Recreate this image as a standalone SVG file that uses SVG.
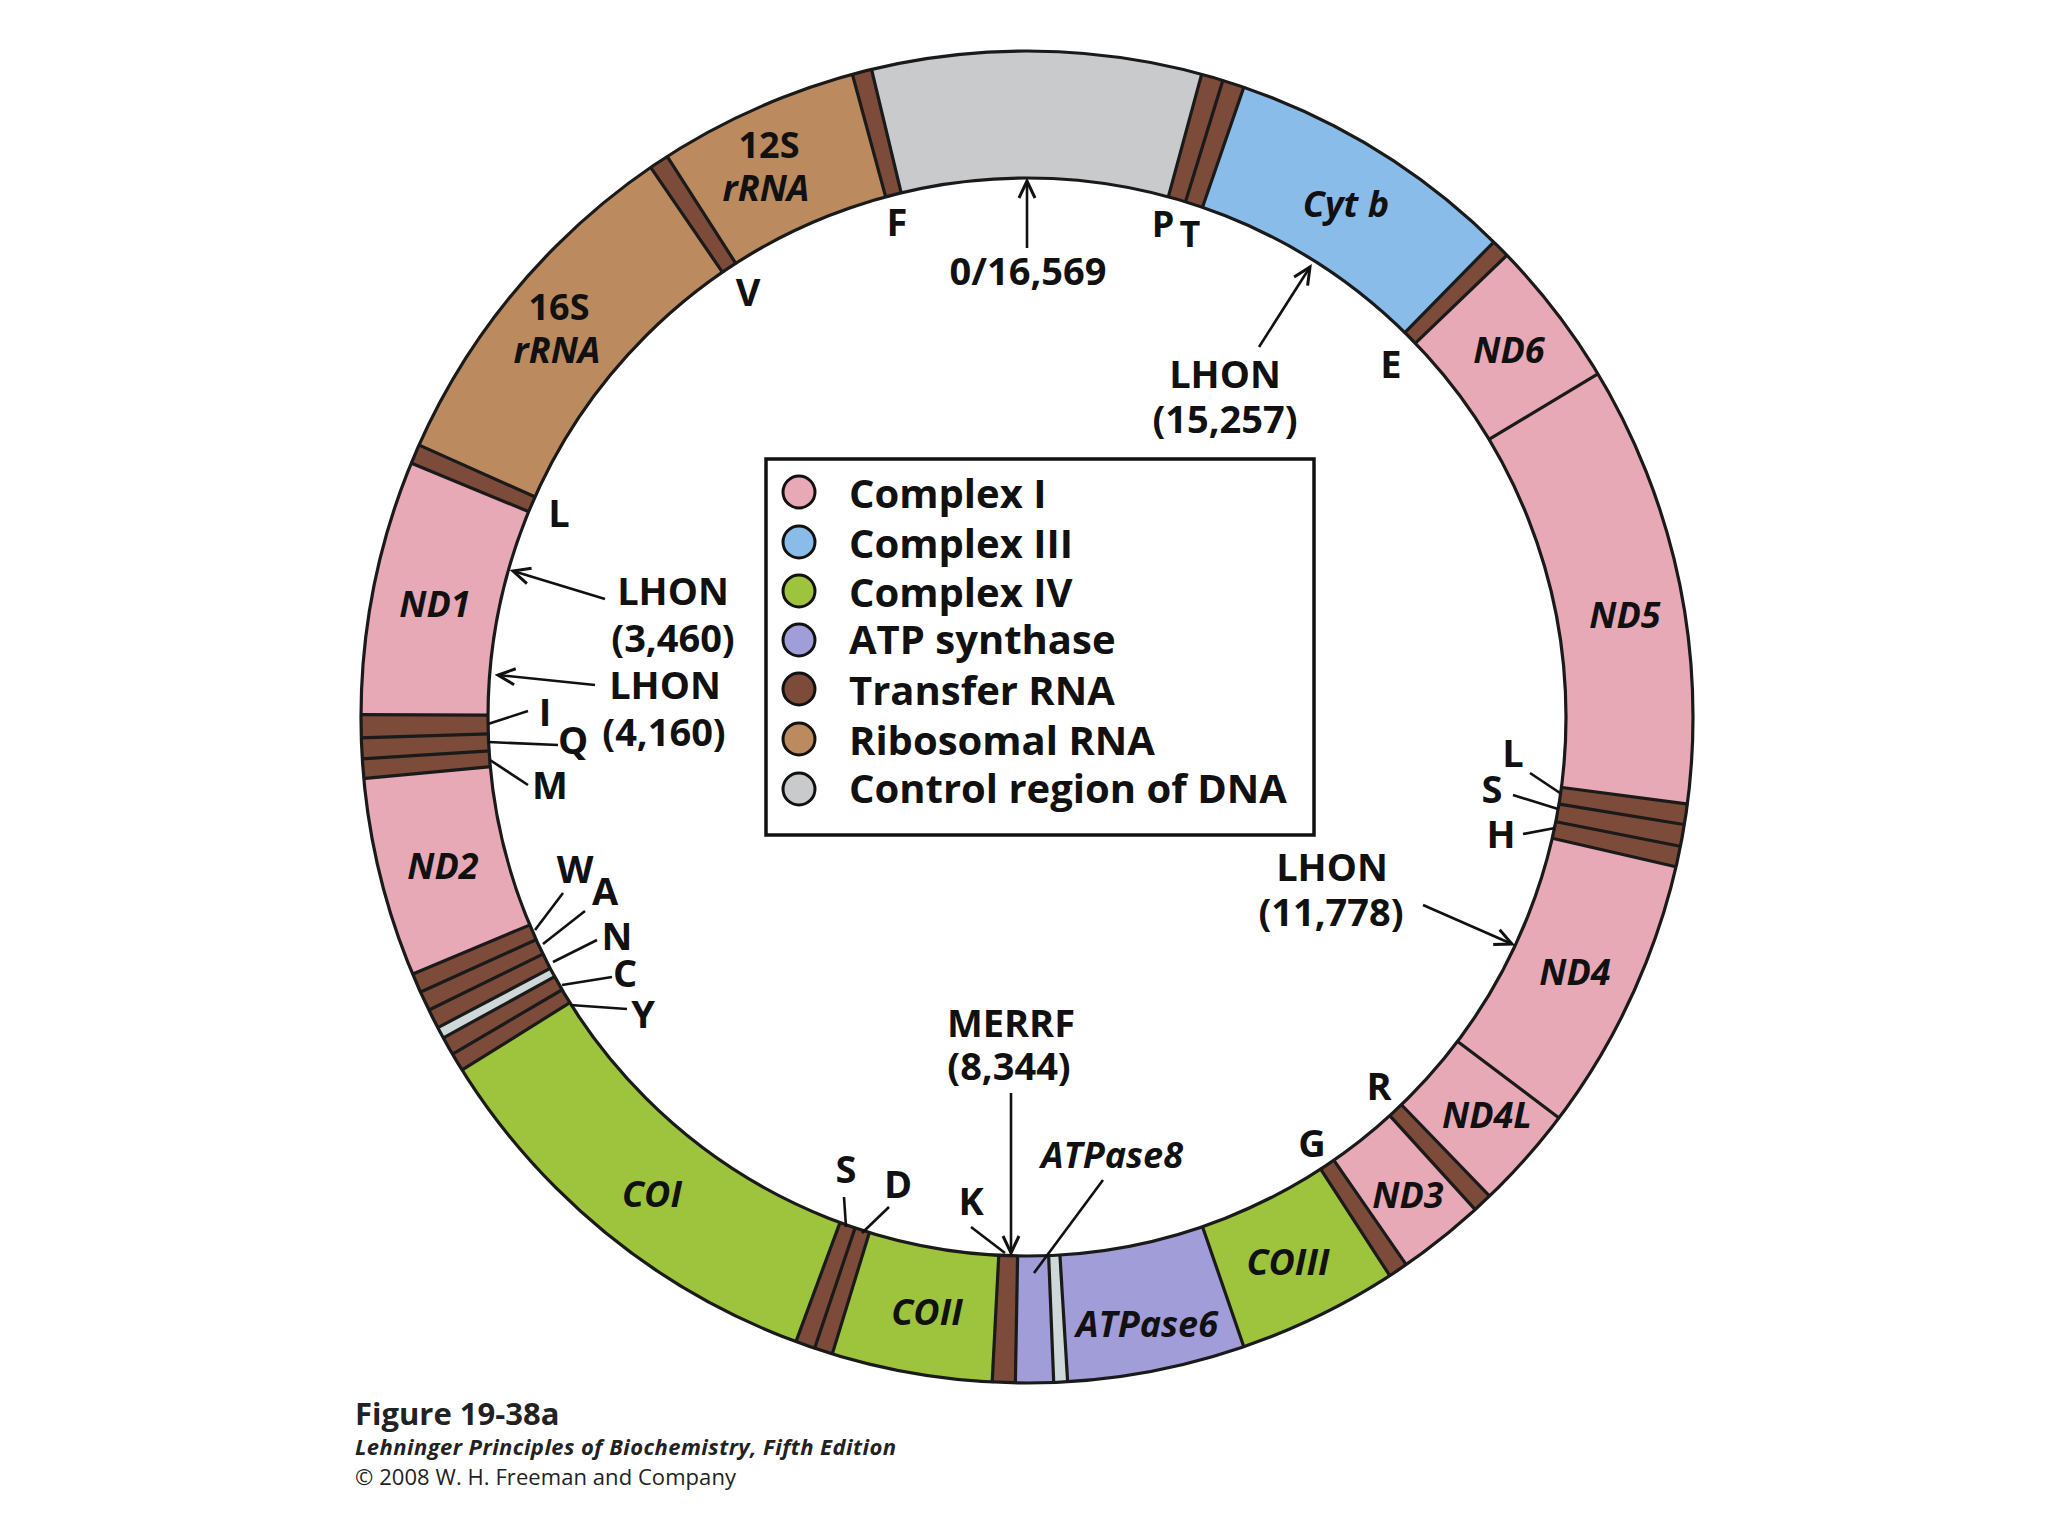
<svg xmlns="http://www.w3.org/2000/svg" width="2048" height="1536" viewBox="0 0 2048 1536">
<defs>
<style>
.seg{fill:none;stroke-width:127}
.pk{stroke:#e8a9b6}.bl{stroke:#89bce9}.gr{stroke:#9dc43c}.pu{stroke:#a19dd9}.br{stroke:#7c4b3a}.tn{stroke:#bb8a5f}.cg{stroke:#c9cacc}.lg{stroke:#cfd8d8}
.bd{stroke:#1a1a1a;stroke-width:3.2}
.t{font-family:"Open Sans","Noto Sans","DejaVu Sans",sans-serif;font-weight:700;fill:#111}
.ri{font-size:36px;font-style:italic;text-anchor:middle}
.rr{font-size:36px;text-anchor:middle}
.ol{font-size:38px;text-anchor:middle}
.sm{font-size:36px;text-anchor:middle}
.lgt{font-size:40px}
.ptr{stroke:#111;stroke-width:2.6;fill:none}
.arr{marker-end:url(#ah)}
.lc{stroke:#111;stroke-width:3}
</style>
<marker id="ah" markerUnits="userSpaceOnUse" markerWidth="24" markerHeight="24" viewBox="0 0 24 24" refX="21" refY="12" orient="auto"><path d="M4,4 L21,12 L4,20" fill="none" stroke="#111" stroke-width="3"/></marker>
<line id="bnd" x1="1027" y1="50" x2="1027" y2="179" class="bd"/>
</defs>
<rect width="2048" height="1536" fill="#fff"/>

<g id="ring" transform="rotate(-90 1027 717)">
<circle id="control-region" cx="1027" cy="717" r="602.5" class="seg cg"/>
<circle id="trna-F" cx="1027" cy="717" r="602.5" pathLength="360" class="seg br" stroke-dasharray="1.7 358.3" stroke-dashoffset="-344.8"/>
<circle id="rrna-12S" cx="1027" cy="717" r="602.5" pathLength="360" class="seg tn" stroke-dasharray="17.5 342.5" stroke-dashoffset="-327.3"/>
<circle id="trna-V" cx="1027" cy="717" r="602.5" pathLength="360" class="seg br" stroke-dasharray="1.7 358.3" stroke-dashoffset="-325.6"/>
<circle id="rrna-16S" cx="1027" cy="717" r="602.5" pathLength="360" class="seg tn" stroke-dasharray="31.5 328.5" stroke-dashoffset="-294.1"/>
<circle id="trna-L1" cx="1027" cy="717" r="602.5" pathLength="360" class="seg br" stroke-dasharray="1.7 358.3" stroke-dashoffset="-292.4"/>
<circle id="gene-ND1" cx="1027" cy="717" r="602.5" pathLength="360" class="seg pk" stroke-dasharray="22.2 337.8" stroke-dashoffset="-270.2"/>
<circle id="trna-IQM" cx="1027" cy="717" r="602.5" pathLength="360" class="seg br" stroke-dasharray="5.5 354.5" stroke-dashoffset="-264.7"/>
<circle id="gene-ND2" cx="1027" cy="717" r="602.5" pathLength="360" class="seg pk" stroke-dasharray="17.4 342.6" stroke-dashoffset="-247.3"/>
<circle id="trna-WAN" cx="1027" cy="717" r="602.5" pathLength="360" class="seg br" stroke-dasharray="5.1 354.9" stroke-dashoffset="-242.2"/>
<circle id="ori-L" cx="1027" cy="717" r="602.5" pathLength="360" class="seg lg" stroke-dasharray="1.0 359" stroke-dashoffset="-241.2"/>
<circle id="trna-CY" cx="1027" cy="717" r="602.5" pathLength="360" class="seg br" stroke-dasharray="3.2 356.8" stroke-dashoffset="-238.0"/>
<circle id="gene-COI" cx="1027" cy="717" r="602.5" pathLength="360" class="seg gr" stroke-dasharray="37.7 322.3" stroke-dashoffset="-200.3"/>
<circle id="trna-SD" cx="1027" cy="717" r="602.5" pathLength="360" class="seg br" stroke-dasharray="3.3 356.7" stroke-dashoffset="-197.0"/>
<circle id="gene-COII" cx="1027" cy="717" r="602.5" pathLength="360" class="seg gr" stroke-dasharray="14 346" stroke-dashoffset="-183.0"/>
<circle id="trna-K" cx="1027" cy="717" r="602.5" pathLength="360" class="seg br" stroke-dasharray="2 358" stroke-dashoffset="-181.0"/>
<circle id="gene-ATPase8" cx="1027" cy="717" r="602.5" pathLength="360" class="seg pu" stroke-dasharray="3.3 356.7" stroke-dashoffset="-177.7"/>
<circle id="overlap" cx="1027" cy="717" r="602.5" pathLength="360" class="seg lg" stroke-dasharray="1.2 358.8" stroke-dashoffset="-176.5"/>
<circle id="gene-ATPase6" cx="1027" cy="717" r="602.5" pathLength="360" class="seg pu" stroke-dasharray="15.5 344.5" stroke-dashoffset="-161.0"/>
<circle id="gene-COIII" cx="1027" cy="717" r="602.5" pathLength="360" class="seg gr" stroke-dasharray="14 346" stroke-dashoffset="-147.0"/>
<circle id="trna-G" cx="1027" cy="717" r="602.5" pathLength="360" class="seg br" stroke-dasharray="1.7 358.3" stroke-dashoffset="-145.3"/>
<circle id="gene-ND3" cx="1027" cy="717" r="602.5" pathLength="360" class="seg pk" stroke-dasharray="7.6 352.4" stroke-dashoffset="-137.7"/>
<circle id="trna-R" cx="1027" cy="717" r="602.5" pathLength="360" class="seg br" stroke-dasharray="1.7 358.3" stroke-dashoffset="-136.0"/>
<circle id="gene-ND4-ND4L" cx="1027" cy="717" r="602.5" pathLength="360" class="seg pk" stroke-dasharray="33 327" stroke-dashoffset="-103.0"/>
<circle id="trna-LSH" cx="1027" cy="717" r="602.5" pathLength="360" class="seg br" stroke-dasharray="5.5 354.5" stroke-dashoffset="-97.5"/>
<circle id="gene-ND5-ND6" cx="1027" cy="717" r="602.5" pathLength="360" class="seg pk" stroke-dasharray="51.4 308.6" stroke-dashoffset="-46.1"/>
<circle id="trna-E" cx="1027" cy="717" r="602.5" pathLength="360" class="seg br" stroke-dasharray="1.6 358.4" stroke-dashoffset="-44.5"/>
<circle id="gene-Cytb" cx="1027" cy="717" r="602.5" pathLength="360" class="seg bl" stroke-dasharray="25.5 334.5" stroke-dashoffset="-19.0"/>
<circle id="trna-PT" cx="1027" cy="717" r="602.5" pathLength="360" class="seg br" stroke-dasharray="3.8 356.2" stroke-dashoffset="-15.2"/>
</g>

<g id="boundaries">
<use href="#bnd" transform="rotate(344.8 1027 717)"/><use href="#bnd" transform="rotate(346.5 1027 717)"/>
<use href="#bnd" transform="rotate(327.3 1027 717)"/><use href="#bnd" transform="rotate(325.6 1027 717)"/>
<use href="#bnd" transform="rotate(294.1 1027 717)"/><use href="#bnd" transform="rotate(292.4 1027 717)"/>
<use href="#bnd" transform="rotate(270.2 1027 717)"/><use href="#bnd" transform="rotate(268.2 1027 717)"/>
<use href="#bnd" transform="rotate(266.4 1027 717)"/><use href="#bnd" transform="rotate(264.7 1027 717)"/>
<use href="#bnd" transform="rotate(247.3 1027 717)"/><use href="#bnd" transform="rotate(245.6 1027 717)"/>
<use href="#bnd" transform="rotate(243.9 1027 717)"/><use href="#bnd" transform="rotate(242.2 1027 717)"/>
<use href="#bnd" transform="rotate(241.2 1027 717)"/><use href="#bnd" transform="rotate(239.6 1027 717)"/>
<use href="#bnd" transform="rotate(238.0 1027 717)"/><use href="#bnd" transform="rotate(200.3 1027 717)"/>
<use href="#bnd" transform="rotate(198.6 1027 717)"/><use href="#bnd" transform="rotate(197.0 1027 717)"/>
<use href="#bnd" transform="rotate(183.0 1027 717)"/><use href="#bnd" transform="rotate(181.0 1027 717)"/>
<use href="#bnd" transform="rotate(177.7 1027 717)"/><use href="#bnd" transform="rotate(176.5 1027 717)"/>
<use href="#bnd" transform="rotate(161.0 1027 717)"/><use href="#bnd" transform="rotate(147.0 1027 717)"/>
<use href="#bnd" transform="rotate(145.3 1027 717)"/><use href="#bnd" transform="rotate(137.7 1027 717)"/>
<use href="#bnd" transform="rotate(136.0 1027 717)"/><use href="#bnd" transform="rotate(127.0 1027 717)"/>
<use href="#bnd" transform="rotate(103.0 1027 717)"/><use href="#bnd" transform="rotate(101.2 1027 717)"/>
<use href="#bnd" transform="rotate(99.3 1027 717)"/><use href="#bnd" transform="rotate(97.5 1027 717)"/>
<use href="#bnd" transform="rotate(59.0 1027 717)"/><use href="#bnd" transform="rotate(46.1 1027 717)"/>
<use href="#bnd" transform="rotate(44.5 1027 717)"/><use href="#bnd" transform="rotate(19.0 1027 717)"/>
<use href="#bnd" transform="rotate(17.1 1027 717)"/><use href="#bnd" transform="rotate(15.2 1027 717)"/>
<circle cx="1027" cy="717" r="666" fill="none" class="bd"/>
<circle cx="1027" cy="717" r="539" fill="none" class="bd"/>
</g>

<g id="ring-labels" class="t">
<g id="lbl-12S"><text class="rr" x="769" y="158">12S</text><text class="ri" x="766" y="201">rRNA</text></g>
<g id="lbl-16S"><text class="rr" x="559" y="320">16S</text><text class="ri" x="557" y="363">rRNA</text></g>
<text id="lbl-Cytb" class="ri" x="1346" y="217">Cyt b</text>
<text id="lbl-ND6" class="ri" x="1509" y="363">ND6</text>
<text id="lbl-ND5" class="ri" x="1625" y="628">ND5</text>
<text id="lbl-ND4" class="ri" x="1575" y="985">ND4</text>
<text id="lbl-ND4L" class="ri" x="1487" y="1128">ND4L</text>
<text id="lbl-ND3" class="ri" x="1408" y="1208">ND3</text>
<text id="lbl-COIII" class="ri" x="1288" y="1275">COIII</text>
<text id="lbl-ATPase6" class="ri" x="1147" y="1337">ATPase6</text>
<text id="lbl-COII" class="ri" x="927" y="1325">COII</text>
<text id="lbl-COI" class="ri" x="652" y="1207">COI</text>
<text id="lbl-ND1" class="ri" x="435" y="617">ND1</text>
<text id="lbl-ND2" class="ri" x="443" y="879">ND2</text>
</g>

<g id="outer-labels" class="t">
<text class="ol" x="897" y="236">F</text>
<text class="ol" x="748" y="306">V</text>
<text class="ol" x="559" y="527">L</text>
<text class="ol" x="1028" y="285">0/16,569</text>
<text class="sm" x="1163" y="237">P</text>
<text class="sm" x="1190" y="247">T</text>
<text class="ol" x="1391" y="378">E</text>
<g id="lhon-15257"><text class="ol" x="1225" y="388">LHON</text><text class="ol" x="1225" y="433">(15,257)</text></g>
<g id="lhon-3460"><text class="ol" x="673" y="605">LHON</text><text class="ol" x="673" y="652">(3,460)</text></g>
<g id="lhon-4160"><text class="ol" x="665" y="699">LHON</text><text class="ol" x="664" y="746">(4,160)</text></g>
<g id="lhon-11778"><text class="ol" x="1332" y="881">LHON</text><text class="ol" x="1331" y="926">(11,778)</text></g>
<g id="merrf-8344"><text class="ol" x="1011" y="1037">MERRF</text><text class="ol" x="1009" y="1080">(8,344)</text></g>
<text class="ol" x="545" y="726">I</text>
<text class="ol" x="573" y="754">Q</text>
<text class="ol" x="550" y="799">M</text>
<text class="ol" x="575" y="883">W</text>
<text class="ol" x="605" y="905">A</text>
<text class="ol" x="617" y="950">N</text>
<text class="ol" x="625" y="987">C</text>
<text class="ol" x="643" y="1028">Y</text>
<text class="ol" x="1513" y="767">L</text>
<text class="ol" x="1492" y="803">S</text>
<text class="ol" x="1501" y="848">H</text>
<text class="ol" x="1379" y="1100">R</text>
<text class="ol" x="1312" y="1157">G</text>
<text class="ol" x="846" y="1183">S</text>
<text class="ol" x="898" y="1198">D</text>
<text class="ol" x="971" y="1215">K</text>
<text class="ri" x="1112" y="1168">ATPase8</text>
</g>

<g id="connectors">
<line class="ptr arr" x1="1027" y1="248" x2="1027" y2="181"/>
<line class="ptr arr" x1="1259" y1="347" x2="1310" y2="267"/>
<line class="ptr arr" x1="605" y1="599" x2="513" y2="571"/>
<line class="ptr arr" x1="595" y1="685" x2="498" y2="675"/>
<line class="ptr arr" x1="1423" y1="905" x2="1512" y2="944"/>
<line class="ptr arr" x1="1011" y1="1093" x2="1011" y2="1253"/>
<line class="ptr" x1="488" y1="724" x2="528" y2="711"/>
<line class="ptr" x1="488" y1="742" x2="558" y2="745"/>
<line class="ptr" x1="490" y1="760" x2="528" y2="785"/>
<line class="ptr" x1="535" y1="930" x2="563" y2="893"/>
<line class="ptr" x1="543" y1="944" x2="585" y2="911"/>
<line class="ptr" x1="553" y1="962" x2="597" y2="940"/>
<line class="ptr" x1="562" y1="985" x2="612" y2="977"/>
<line class="ptr" x1="570" y1="1005" x2="627" y2="1009"/>
<line class="ptr" x1="1530" y1="773" x2="1560" y2="793"/>
<line class="ptr" x1="1513" y1="795" x2="1558" y2="809"/>
<line class="ptr" x1="1523" y1="834" x2="1555" y2="828"/>
<line class="ptr" x1="844" y1="1197" x2="846" y2="1227"/>
<line class="ptr" x1="889" y1="1207" x2="862" y2="1233"/>
<line class="ptr" x1="971" y1="1227" x2="1005" y2="1253"/>
<line class="ptr" x1="1103" y1="1180" x2="1034" y2="1273"/>
</g>

<g id="legend">
<rect x="766" y="459" width="548" height="376" fill="#fff" stroke="#111" stroke-width="3.5"/>
<circle class="lc" cx="799" cy="492" r="16" fill="#e8a9b6"/>
<circle class="lc" cx="799" cy="542" r="16" fill="#89bce9"/>
<circle class="lc" cx="799" cy="591" r="16" fill="#9dc43c"/>
<circle class="lc" cx="799" cy="640" r="16" fill="#a19dd9"/>
<circle class="lc" cx="799" cy="689" r="16" fill="#7c4b3a"/>
<circle class="lc" cx="799" cy="739" r="16" fill="#bb8a5f"/>
<circle class="lc" cx="799" cy="789" r="16" fill="#c9cacc"/>
<g class="t lgt">
<text x="849" y="508">Complex I</text>
<text x="849" y="558">Complex III</text>
<text x="849" y="607">Complex IV</text>
<text x="849" y="654">ATP synthase</text>
<text x="849" y="705">Transfer RNA</text>
<text x="849" y="755">Ribosomal RNA</text>
<text x="849" y="803">Control region of DNA</text>
</g>
</g>

<g id="caption" font-family="'Open Sans','Noto Sans',sans-serif" fill="#222">
<text x="355" y="1425" font-size="31" font-weight="700">Figure 19-38a</text>
<text x="355" y="1455" font-size="22" font-weight="700" font-style="italic" textLength="541">Lehninger Principles of Biochemistry, Fifth Edition</text>
<text x="355" y="1485" font-size="22" textLength="381">© 2008 W. H. Freeman and Company</text>
</g>
</svg>
